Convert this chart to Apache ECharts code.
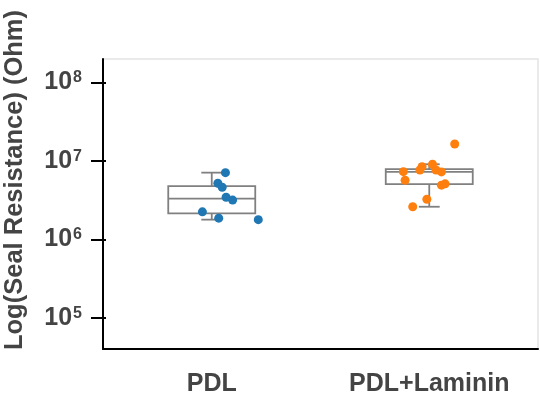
<!DOCTYPE html>
<html>
<head>
<meta charset="utf-8">
<script src="https://cdn.jsdelivr.net/npm/echarts@6/dist/echarts.min.js"></script>
<style>
  html, body { margin: 0; padding: 0; background: #fff; }
  #chart { width: 540px; height: 401px; }
</style>
</head>
<body>
<div id="chart"></div>
<script>
// Coating conditions on the x axis
const categories = ['PDL', 'PDL+Laminin'];

// Seal resistance of each recording (Ohm)
const pdlValues = [7.08e6, 5.19e6, 4.61e6, 3.44e6, 3.16e6, 2.24e6, 1.86e6, 1.78e6];
const lamininValues = [1.64e7, 9.06e6, 8.44e6, 7.66e6, 7.66e6, 7.29e6, 7.23e6, 5.66e6, 5.1e6, 4.9e6, 3.24e6, 2.6e6];

// Horizontal strip jitter of each point, in category widths
const pdlJitter = [0.063, 0.028, 0.048, 0.066, 0.096, -0.043, 0.032, 0.214];
const lamininJitter = [0.117, 0.015, -0.033, -0.043, 0.031, -0.119, 0.056, -0.111, 0.073, 0.056, -0.011, -0.076];

// Decades that carry a tick and label
const decadeTicks = [1e5, 1e6, 1e7, 1e8];

const FONT = '"Liberation Sans", Arial, sans-serif';
const TEXT_COLOR = '#444';
const BOX_COLOR = '#808080';

function quantile(sorted, p) {
  const pos = (sorted.length - 1) * p;
  const lo = Math.floor(pos), hi = Math.ceil(pos);
  return sorted[lo] + (sorted[hi] - sorted[lo]) * (pos - lo);
}

// [lower whisker, Q1, median, Q3, upper whisker] with the 1.5 IQR rule
function boxStats(values) {
  const s = values.slice().sort((a, b) => a - b);
  const q1 = quantile(s, 0.25), med = quantile(s, 0.5), q3 = quantile(s, 0.75);
  const iqr = q3 - q1;
  const lo = s.find(v => v >= q1 - 1.5 * iqr);
  const hi = s.slice().reverse().find(v => v <= q3 + 1.5 * iqr);
  return [lo, q1, med, q3, hi];
}

const groups = [
  { values: pdlValues, jitter: pdlJitter, color: '#1f77b4' },
  { values: lamininValues, jitter: lamininJitter, color: '#ff7f0e' }
];

const boxData = groups.map((g, i) => [i].concat(boxStats(g.values)));

const BOX_HALF = 0.2;
const CAP_HALF = 0.048;

function renderBox(params, api) {
  const x = api.value(0);
  const lo = api.value(1), q1 = api.value(2), med = api.value(3), q3 = api.value(4), hi = api.value(5);
  const c = (dx, v) => api.coord([x + dx, v]);
  const tl = c(-BOX_HALF, q3), br = c(BOX_HALF, q1);
  const style = { stroke: BOX_COLOR, lineWidth: 1.8, fill: null };
  const line = (a, b) => ({
    type: 'line',
    shape: { x1: a[0], y1: a[1], x2: b[0], y2: b[1] },
    style: style
  });
  return {
    type: 'group',
    children: [
      line(c(0, q3), c(0, hi)),
      line(c(0, q1), c(0, lo)),
      line(c(-CAP_HALF, hi), c(CAP_HALF, hi)),
      line(c(-CAP_HALF, lo), c(CAP_HALF, lo)),
      {
        type: 'rect',
        shape: { x: tl[0], y: tl[1], width: br[0] - tl[0], height: br[1] - tl[1] },
        style: { stroke: BOX_COLOR, lineWidth: 1.8, fill: '#fff' }
      },
      line(c(-BOX_HALF, med), c(BOX_HALF, med))
    ]
  };
}

const yMin = Math.pow(10, 4.6);
const yMax = Math.pow(10, 8.3);

const chart = echarts.init(document.getElementById('chart'), null, { renderer: 'canvas' });

chart.setOption({
  animation: false,
  backgroundColor: '#fff',
  grid: {
    left: 103, right: 2, top: 59, bottom: 52,
    show: true, borderColor: '#e4e4e4', borderWidth: 1.5, backgroundColor: 'transparent'
  },
  graphic: [{
    type: 'text',
    x: 15, y: 180,
    rotation: Math.PI / 2,
    style: {
      text: 'Log(Seal Resistance) (Ohm)',
      font: 'bold 25.5px ' + FONT,
      fill: TEXT_COLOR,
      textAlign: 'center',
      textVerticalAlign: 'middle'
    }
  }],
  xAxis: [
    {
      type: 'category',
      data: categories,
      position: 'bottom',
      boundaryGap: true,
      axisLine: { onZero: false, lineStyle: { color: '#000', width: 2 } },
      axisTick: { alignWithLabel: true, length: 11, lineStyle: { color: '#000', width: 2 } },
      axisLabel: { margin: 23, color: TEXT_COLOR, fontSize: 25, fontWeight: 'bold', fontFamily: FONT },
      splitLine: { show: false }
    },
    {
      type: 'value',
      min: -0.5, max: 1.5,
      show: false
    },
    {
      type: 'category',
      data: categories,
      position: 'bottom',
      boundaryGap: true,
      axisLine: { show: false, onZero: false },
      axisTick: { alignWithLabel: true, inside: true, length: 3, lineStyle: { color: '#000', width: 2 } },
      axisLabel: { show: false },
      splitLine: { show: false }
    }
  ],
  yAxis: [
    {
      type: 'log',
      logBase: 10,
      min: yMin, max: yMax,
      position: 'left',
      axisLine: { show: true, onZero: false, lineStyle: { color: '#000', width: 2 } },
      axisTick: { show: true, length: 12, customValues: decadeTicks, lineStyle: { color: '#000', width: 2 } },
      axisLabel: {
        margin: 21,
        customValues: decadeTicks,
        formatter: v => '{b|10}{s|' + Math.round(Math.log10(v)) + '}',
        rich: {
          b: { fontSize: 25, fontWeight: 'bold', fontFamily: FONT, color: TEXT_COLOR, verticalAlign: 'bottom' },
          s: { fontSize: 16, fontWeight: 'bold', fontFamily: FONT, color: TEXT_COLOR, verticalAlign: 'top', padding: [0, 0, 0, 1] }
        }
      },
      splitLine: { show: false },
      minorTick: { show: false }
    },
    {
      type: 'log',
      logBase: 10,
      min: yMin, max: yMax,
      position: 'left',
      axisLine: { show: false, onZero: false },
      axisTick: { show: true, inside: true, length: 3, customValues: decadeTicks, lineStyle: { color: '#000', width: 2 } },
      axisLabel: { show: false },
      splitLine: { show: false }
    }
  ],
  series: [
    {
      type: 'custom',
      xAxisIndex: 1,
      yAxisIndex: 0,
      renderItem: renderBox,
      data: boxData,
      z: 2,
      silent: true
    }
  ].concat(groups.map((g, i) => ({
    type: 'scatter',
    xAxisIndex: 1,
    yAxisIndex: 0,
    symbol: 'circle',
    symbolSize: 9,
    itemStyle: { color: g.color, opacity: 1 },
    data: g.values.map((v, k) => [i + g.jitter[k], v]),
    z: 3
  })))
});
</script>
</body>
</html>
